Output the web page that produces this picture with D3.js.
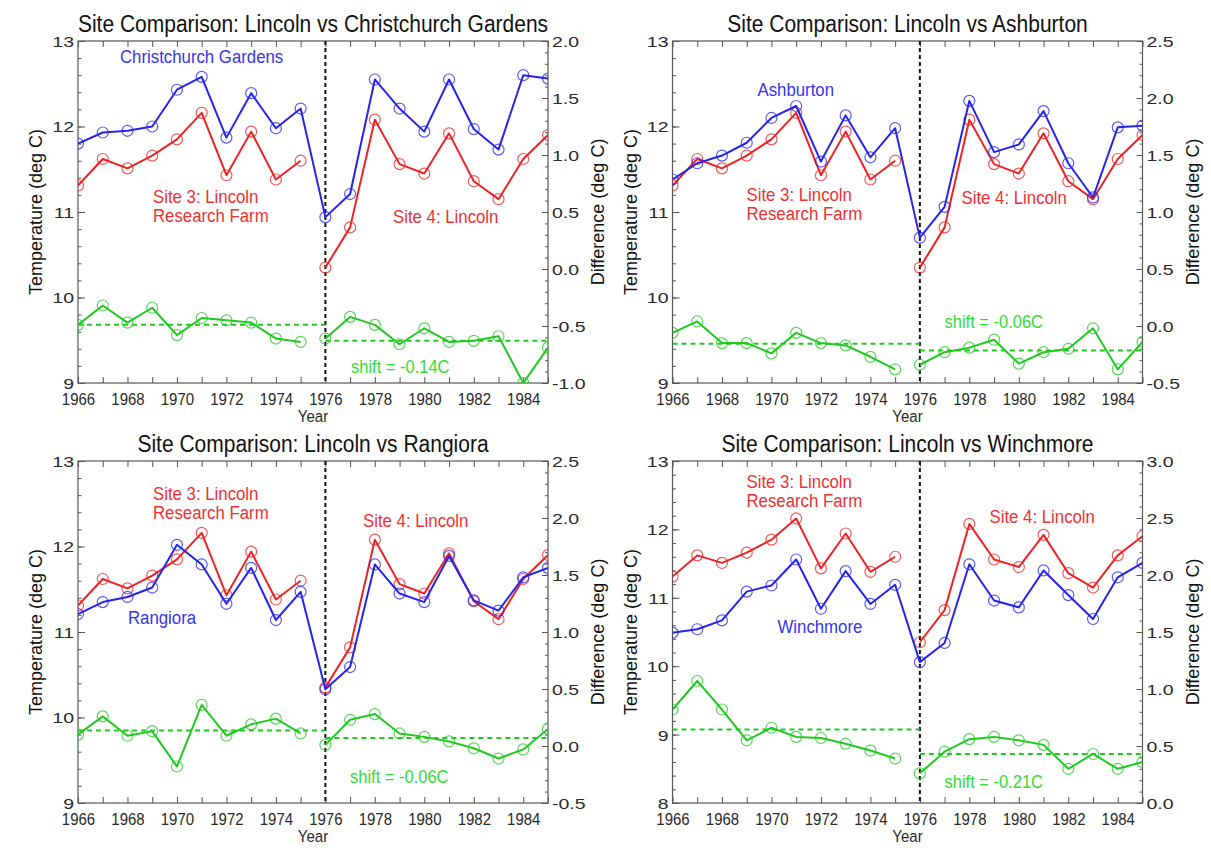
<!DOCTYPE html>
<html>
<head>
<meta charset="utf-8">
<script src="https://cdn.jsdelivr.net/npm/d3@7"></script>
<style>
  html, body { margin: 0; padding: 0; background: #ffffff; }
  svg { display: block; font-family: "Liberation Sans", Arial, Helvetica, sans-serif; }
  svg text { font-family: "Liberation Sans", Arial, Helvetica, sans-serif; font-weight: normal; }
</style>
</head>
<body>
<svg id="chart" width="1211" height="848"></svg>
<script>
// ---------------- DATA ----------------
const years = [1966,1967,1968,1969,1970,1971,1972,1973,1974,1975,
               1976,1977,1978,1979,1980,1981,1982,1983,1984,1985];
const breakYear = 1976;
const xTickLabels = [1966,1968,1970,1972,1974,1976,1978,1980,1982,1984];

// Lincoln (Site 3: Research Farm to 1975, Site 4: Lincoln from 1976)
const lincoln = [11.31,11.62,11.51,11.66,11.85,12.16,11.43,11.94,11.38,11.60,
                 10.35,10.82,12.08,11.56,11.45,11.92,11.36,11.15,11.62,11.90];

const christchurch = [11.80,11.93,11.95,12.00,12.43,12.58,11.87,12.39,11.98,12.21,
                      10.94,11.21,12.55,12.21,11.94,12.55,11.97,11.73,12.60,12.56];
const ashburton    = [11.38,11.57,11.66,11.81,12.10,12.24,11.59,12.13,11.64,11.98,
                      10.70,11.06,12.30,11.70,11.79,12.18,11.57,11.17,11.99,12.01];
const rangiora     = [11.21,11.35,11.41,11.52,12.02,11.79,11.33,11.75,11.14,11.47,
                      10.33,10.59,11.79,11.45,11.35,11.89,11.37,11.25,11.64,11.75];
const winchmore    = [10.49,10.54,10.67,11.09,11.18,11.56,10.84,11.39,10.91,11.19,
                      10.06,10.34,11.49,10.96,10.86,11.40,11.04,10.69,11.30,11.51];

const diffChristchurch = [-0.49,-0.32,-0.47,-0.34,-0.58,-0.43,-0.45,-0.47,-0.61,-0.64,
                          -0.61,-0.42,-0.49,-0.66,-0.52,-0.64,-0.63,-0.59,-1.00,-0.69];
const diffAshburton    = [-0.06,0.04,-0.15,-0.15,-0.24,-0.06,-0.15,-0.17,-0.27,-0.38,
                          -0.34,-0.23,-0.19,-0.12,-0.33,-0.23,-0.20,-0.02,-0.38,-0.14];
const diffRangiora     = [0.10,0.26,0.09,0.13,-0.18,0.36,0.09,0.19,0.24,0.11,
                          0.01,0.23,0.28,0.11,0.08,0.04,-0.02,-0.11,-0.03,0.15];
const diffWinchmore    = [0.82,1.07,0.82,0.55,0.66,0.58,0.57,0.52,0.46,0.39,
                          0.26,0.45,0.56,0.58,0.55,0.51,0.30,0.43,0.30,0.36];

// mean difference before / after the 1976 site change
const meanChristchurch = [-0.49, -0.63];
const meanAshburton    = [-0.155, -0.215];
const meanRangiora     = [0.135, 0.07];
const meanWinchmore    = [0.645, 0.43];

const siteNames   = ["Christchurch Gardens", "Ashburton", "Rangiora", "Winchmore"];
const shiftLabels = ["shift = -0.14C", "shift = -0.06C", "shift = -0.06C", "shift = -0.21C"];
const titles = siteNames.map(s => "Site Comparison: Lincoln vs " + s);
const site3Label = ["Site 3: Lincoln", "Research Farm"];
const site4Label = "Site 4: Lincoln";

const tempTicksA = [9,10,11,12,13];
const tempTicksB = [8,9,10,11,12,13];
const diffTicks1 = [-1.0,-0.5,0.0,0.5,1.0,1.5,2.0];
const diffTicks2 = [-0.5,0.0,0.5,1.0,1.5,2.0,2.5];
const diffTicks4 = [0.0,0.5,1.0,1.5,2.0,2.5,3.0];

// ---------------- LAYOUT ----------------
const COL = { blue: "#2424ee", red: "#ee2222", green: "#22c822",
              blueText: "#3535ee", redText: "#ee3030", greenText: "#33dd33" };
const FW = 470, FH = 342;
const FONT = '"Liberation Sans", Arial, Helvetica, sans-serif';
const TICK_TEXT = "#2a2a2a";

const panels = [
  { x0: 78,  y0: 41,  other: christchurch, diff: diffChristchurch, mean: meanChristchurch,
    tempTicks: tempTicksA, diffTicks: diffTicks1, idx: 0,
    pos: { site: [42,22], s3: [75,162], s4: [315,182], shift: [273,332] } },
  { x0: 672.5, y0: 41,  other: ashburton, diff: diffAshburton, mean: meanAshburton,
    tempTicks: tempTicksA, diffTicks: diffTicks2, idx: 1,
    pos: { site: [85,55], s3: [74,160], s4: [289,163], shift: [272,287] } },
  { x0: 78,  y0: 461, other: rangiora, diff: diffRangiora, mean: meanRangiora,
    tempTicks: tempTicksA, diffTicks: diffTicks2, idx: 2,
    pos: { site: [50,163], s3: [75,39], s4: [285,66], shift: [272,322] } },
  { x0: 672.5, y0: 461, other: winchmore, diff: diffWinchmore, mean: meanWinchmore,
    tempTicks: tempTicksB, diffTicks: diffTicks4, idx: 3,
    pos: { site: [105,172], s3: [74,27], s4: [317,62], shift: [272,327] } }
];

const svg = d3.select("#chart");
svg.append("rect").attr("width", 1211).attr("height", 848).attr("fill", "#ffffff");

function label(g, x, y, str, o) {
  let tr = `translate(${x},${y})`;
  if (o.rot) tr += ` rotate(${o.rot})`;
  tr += ` scale(${o.sx || 1},${o.sy || 1})`;
  return g.append("text")
    .attr("transform", tr)
    .attr("text-anchor", o.anchor || "start")
    .attr("font-family", FONT)
    .attr("font-size", o.size)
    .attr("fill", o.fill || "#111")
    .text(str);
}

const fmt1 = v => v.toFixed(1);

panels.forEach(p => {
  const g = svg.append("g").attr("transform", `translate(${p.x0},${p.y0})`);
  const x = d3.scaleLinear().domain([years[0], years[years.length - 1]]).range([0, FW]);
  const t0 = p.tempTicks[0], t1 = p.tempTicks[p.tempTicks.length - 1];
  const d0 = p.diffTicks[0], d1 = p.diffTicks[p.diffTicks.length - 1];
  const yT = d3.scaleLinear().domain([t0, t1]).range([FH, 0]);
  const yD = d3.scaleLinear().domain([d0, d1]).range([FH, 0]);

  const clipId = "clip" + p.idx;
  g.append("clipPath").attr("id", clipId)
    .append("rect").attr("x", 0).attr("y", 0).attr("width", FW).attr("height", FH);

  const axisColor = "#555";
  function styleAxis(sel) {
    sel.attr("font-family", FONT).attr("font-size", 15);
    sel.select(".domain").remove();
    sel.selectAll(".tick line").attr("stroke", axisColor).attr("stroke-width", 1);
  }
  // bottom
  const gb = g.append("g").attr("transform", `translate(0,${FH})`)
    .call(d3.axisBottom(x).tickValues(years).tickSize(-6)
      .tickFormat(d => xTickLabels.includes(d) ? String(d) : ""));
  styleAxis(gb);
  gb.selectAll("text").attr("y", 0).attr("dy", 0)
    .attr("transform", "translate(0,22) scale(1,1.1)")
    .attr("fill", TICK_TEXT);
  // top
  const gt = g.append("g").call(d3.axisTop(x).tickValues(years).tickSize(-6).tickFormat(""));
  styleAxis(gt);
  // left major
  const gl = g.append("g").call(d3.axisLeft(yT).tickValues(p.tempTicks).tickSize(-7).tickFormat(d3.format("d")));
  styleAxis(gl);
  gl.selectAll("text").attr("x", 0).attr("dy", "0.36em")
    .attr("transform", "translate(-4,0) scale(1.3,1)")
    .attr("fill", TICK_TEXT);
  // left minor
  const glm = g.append("g").call(d3.axisLeft(yT).tickValues(yT.ticks((t1 - t0) * 5)).tickSize(-3.5).tickFormat(""));
  styleAxis(glm);
  // right major
  const gr = g.append("g").attr("transform", `translate(${FW},0)`)
    .call(d3.axisRight(yD).tickValues(p.diffTicks).tickSize(-6).tickFormat(fmt1));
  styleAxis(gr);
  gr.selectAll("text").attr("x", 0).attr("dy", "0.36em")
    .attr("transform", "translate(4,0) scale(1.3,1)")
    .attr("fill", TICK_TEXT);
  // right minor
  const grm = g.append("g").attr("transform", `translate(${FW},0)`)
    .call(d3.axisRight(yD).tickValues(yD.ticks(Math.round((d1 - d0) * 10))).tickSize(-3).tickFormat(""));
  styleAxis(grm);

  // frame
  g.append("rect").attr("x", 0).attr("y", 0).attr("width", FW).attr("height", FH)
    .attr("fill", "none").attr("stroke", axisColor).attr("stroke-width", 1.2);

  // titles
  label(g, FW / 2, -9.5, titles[p.idx], { size: 21, anchor: "middle", sy: 1.1, fill: "#111" });
  label(g, -36, FH / 2, "Temperature (deg C)", { size: 18, anchor: "middle", rot: -90, fill: "#111" });
  label(g, FW + 56, FH / 2, "Difference (deg C)", { size: 18, anchor: "middle", rot: -90, fill: "#111" });
  label(g, FW / 2, FH + 39, "Year", { size: 15, anchor: "middle", sy: 1.1, fill: TICK_TEXT });

  const plot = g.append("g").attr("clip-path", `url(#${clipId})`);

  // 1976 site-change line
  plot.append("line")
    .attr("x1", x(breakYear)).attr("x2", x(breakYear))
    .attr("y1", 0).attr("y2", FH)
    .attr("stroke", "#111").attr("stroke-width", 2).attr("stroke-dasharray", "4,3");

  const bi = years.indexOf(breakYear);
  const seg = (arr, a, b) => d3.range(a, b).map(i => ({ yr: years[i], v: arr[i] }));

  function series(data, yScale, color, circleColor) {
    const line = d3.line().x(d => x(d.yr)).y(d => yScale(d.v));
    plot.append("path").datum(data).attr("d", line)
      .attr("fill", "none").attr("stroke", color).attr("stroke-width", 2)
      .attr("stroke-linejoin", "round");
    plot.append("g").selectAll("circle").data(data).join("circle")
      .attr("cx", d => x(d.yr)).attr("cy", d => yScale(d.v)).attr("r", 5.5)
      .attr("fill", "none").attr("stroke", circleColor).attr("stroke-width", 1.2)
      .attr("stroke-opacity", 0.75);
  }

  // mean difference dashed lines
  [[years[0], breakYear, p.mean[0]], [breakYear, years[years.length - 1], p.mean[1]]].forEach(m => {
    plot.append("line")
      .attr("x1", x(m[0])).attr("x2", x(m[1]))
      .attr("y1", yD(m[2])).attr("y2", yD(m[2]))
      .attr("stroke", COL.green).attr("stroke-width", 2).attr("stroke-dasharray", "5,4");
  });

  series(seg(p.diff, 0, bi), yD, COL.green, COL.green);
  series(seg(p.diff, bi, years.length), yD, COL.green, COL.green);
  series(seg(lincoln, 0, bi), yT, COL.red, COL.red);
  series(seg(lincoln, bi, years.length), yT, COL.red, COL.red);
  series(seg(p.other, 0, years.length), yT, COL.blue, COL.blue);

  // annotations
  label(g, p.pos.site[0], p.pos.site[1], siteNames[p.idx], { size: 16.8, sy: 1.1, fill: COL.blueText });
  label(g, p.pos.s3[0], p.pos.s3[1], site3Label[0], { size: 16.8, sy: 1.1, fill: COL.redText });
  label(g, p.pos.s3[0], p.pos.s3[1] + 18.5, site3Label[1], { size: 16.8, sy: 1.1, fill: COL.redText });
  label(g, p.pos.s4[0], p.pos.s4[1], site4Label, { size: 16.8, sy: 1.1, fill: COL.redText });
  label(g, p.pos.shift[0], p.pos.shift[1], shiftLabels[p.idx], { size: 16.5, sy: 1.1, fill: COL.greenText });
});
</script>
</body>
</html>
